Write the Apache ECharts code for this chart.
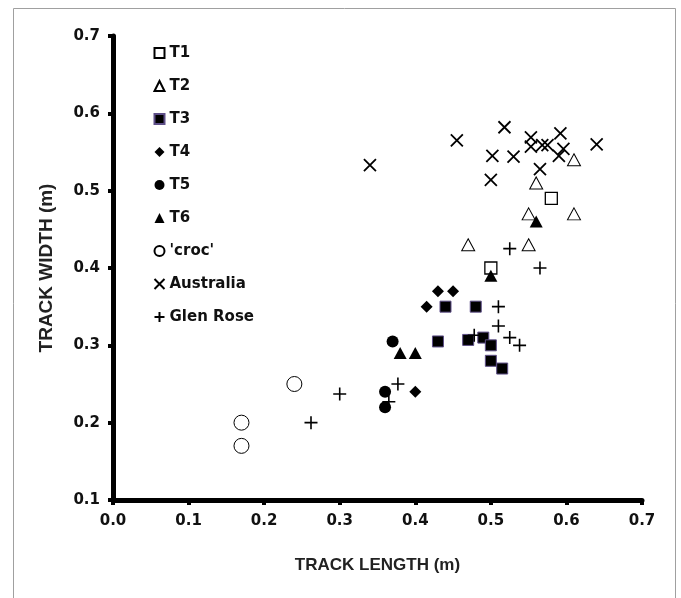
<!DOCTYPE html>
<html>
<head>
<meta charset="utf-8">
<script src="https://cdn.jsdelivr.net/npm/echarts@6/dist/echarts.min.js"></script>
<style>
  html, body { margin: 0; padding: 0; background: #fff; }
  #chart { width: 681px; height: 598px; }
</style>
</head>
<body>
<div id="chart"></div>
<script>
// track length (m), track width (m)
const t1 = [[0.58, 0.49], [0.50, 0.40]];
const t2 = [[0.61, 0.54], [0.56, 0.51], [0.55, 0.47], [0.61, 0.47], [0.47, 0.43], [0.55, 0.43]];
const t3 = [[0.44, 0.35], [0.48, 0.35], [0.43, 0.305], [0.47, 0.307], [0.49, 0.31], [0.50, 0.30], [0.50, 0.28], [0.515, 0.27]];
const t4 = [[0.43, 0.37], [0.45, 0.37], [0.415, 0.35], [0.40, 0.24]];
const t5 = [[0.37, 0.305], [0.36, 0.24], [0.36, 0.22]];
const t6 = [[0.38, 0.29], [0.40, 0.29], [0.50, 0.39], [0.56, 0.46]];
const croc = [[0.24, 0.25], [0.17, 0.20], [0.17, 0.17]];
const australia = [
  [0.34, 0.533], [0.455, 0.565], [0.518, 0.582], [0.502, 0.545], [0.53, 0.544],
  [0.50, 0.514], [0.553, 0.569], [0.553, 0.557], [0.568, 0.559], [0.575, 0.559],
  [0.592, 0.574], [0.596, 0.554], [0.59, 0.545], [0.565, 0.528], [0.64, 0.56]
];
const glenRose = [
  [0.525, 0.425], [0.565, 0.40], [0.51, 0.35], [0.51, 0.325], [0.525, 0.31],
  [0.538, 0.30], [0.478, 0.313], [0.377, 0.25], [0.30, 0.237], [0.262, 0.20], [0.365, 0.227]
];

const crossPath = "path://M0,0L10,10M10,0L0,10";
const plusPath = "path://M5,0L5,10M0,5L10,5";

const chart = echarts.init(document.getElementById("chart"));

const axisLabel = {
  color: "#111",
  fontFamily: "DejaVu Sans",
  fontWeight: "bold",
  fontSize: 15,
  formatter: (v) => v.toFixed(1),
};
const axisName = { color: "#222", fontFamily: "Liberation Sans", fontWeight: "bold", fontSize: 17 };

chart.setOption({
  animation: false,
  backgroundColor: "#fff",
  graphic: [
    {
      type: "rect",
      shape: { x: 13.5, y: 8.5, width: 662, height: 620 },
      style: { fill: "none", stroke: "#a0a0a0", lineWidth: 1 },
      silent: true,
    },
  ],
  grid: { left: 113, right: 39, top: 36, bottom: 98 },
  legend: {
    orient: "vertical",
    left: 147,
    top: 40,
    itemWidth: 10,
    itemHeight: 10,
    itemGap: 17,
    textStyle: { color: "#111", fontFamily: "DejaVu Sans", fontWeight: "bold", fontSize: 15, lineHeight: 16 },
  },
  xAxis: {
    type: "value",
    min: 0,
    max: 0.7,
    interval: 0.1,
    name: "TRACK LENGTH (m)",
    nameLocation: "middle",
    nameGap: 57,
    nameTextStyle: axisName,
    axisLine: { lineStyle: { color: "#000", width: 5 } },
    axisTick: { length: 5, lineStyle: { color: "#000", width: 4 } },
    splitLine: { show: false },
    axisLabel: { ...axisLabel, margin: 14 },
  },
  yAxis: {
    type: "value",
    min: 0.1,
    max: 0.7,
    interval: 0.1,
    name: "TRACK WIDTH (m)",
    nameLocation: "middle",
    nameGap: 57,
    nameTextStyle: { ...axisName, fontSize: 19 },
    axisLine: { lineStyle: { color: "#000", width: 5 } },
    axisTick: { length: 5, lineStyle: { color: "#000", width: 4 } },
    splitLine: { show: false },
    axisLabel: { ...axisLabel, margin: 13 },
  },
  series: [
    {
      name: "T1", type: "scatter", data: t1, symbol: "rect", symbolSize: 12,
      itemStyle: { color: "#fff", borderColor: "#000", borderWidth: 1.3, opacity: 1 },
    },
    {
      name: "T2", type: "scatter", data: t2, symbol: "triangle", symbolSize: [13, 12],
      itemStyle: { color: "#fff", borderColor: "#000", borderWidth: 1, opacity: 1 },
    },
    {
      name: "T3", type: "scatter", data: t3, symbol: "rect", symbolSize: 11,
      itemStyle: { color: "#000", borderColor: "#5e4f88", borderWidth: 1, opacity: 1 },
    },
    {
      name: "T4", type: "scatter", data: t4, symbol: "diamond", symbolSize: 12,
      itemStyle: { color: "#000", opacity: 1 },
    },
    {
      name: "T5", type: "scatter", data: t5, symbol: "circle", symbolSize: 12,
      itemStyle: { color: "#000", opacity: 1 },
    },
    {
      name: "T6", type: "scatter", data: t6, symbol: "triangle", symbolSize: [13, 12],
      itemStyle: { color: "#000", opacity: 1 },
    },
    {
      name: "'croc'", type: "scatter", data: croc, symbol: "circle", symbolSize: 15,
      itemStyle: { color: "#fff", borderColor: "#000", borderWidth: 1, opacity: 1 },
    },
    {
      name: "Australia", type: "scatter", data: australia, symbol: crossPath, symbolSize: 12,
      itemStyle: { color: "none", borderColor: "#000", borderWidth: 1.8, opacity: 1 },
    },
    {
      name: "Glen Rose", type: "scatter", data: glenRose, symbol: plusPath, symbolSize: 13,
      itemStyle: { color: "none", borderColor: "#000", borderWidth: 1.6, opacity: 1 },
    },
  ],
});
</script>
</body>
</html>
